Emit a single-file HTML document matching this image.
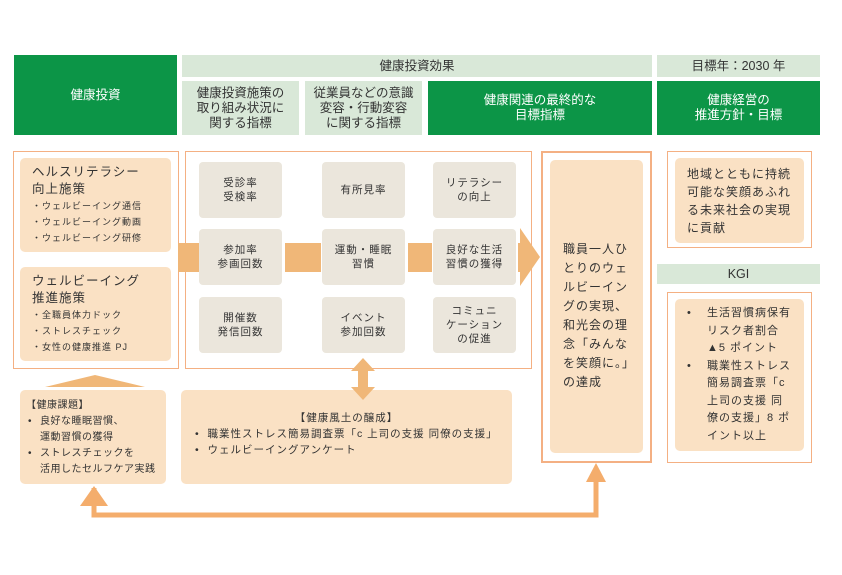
<!DOCTYPE html>
<html><head><meta charset="utf-8"><style>
body{margin:0;width:842px;height:575px;background:#fff;font-family:"Liberation Sans","Noto Sans CJK JP",sans-serif;color:#333;position:relative;overflow:hidden}
div{position:absolute;box-sizing:border-box}
.g{background:#0c9547;color:#fff;display:flex;align-items:center;justify-content:center;text-align:center;font-size:12.5px;line-height:15px}
.lg{background:#d9e8d8;color:#333;display:flex;align-items:center;justify-content:center;text-align:center;font-size:12.5px;line-height:15px}
.ob{border:1.5px solid #f4b083}
.pe{background:#fae1c4;border-radius:5px}
.gr{background:#ebe6dc;border-radius:4px;display:flex;align-items:center;justify-content:center;text-align:center;font-size:10.5px;line-height:14px;letter-spacing:1px}
.bar{background:#f0b778}
.t{font-size:9px;line-height:16px;letter-spacing:1px}
</style></head><body>
<div class="g" style="left:14px;top:55px;width:163px;height:80px">健康投資</div>
<div class="lg" style="left:182px;top:55px;width:470px;height:22px">健康投資効果</div>
<div class="lg" style="left:182px;top:81px;width:117px;height:54px">健康投資施策の<br>取り組み状況に<br>関する指標</div>
<div class="lg" style="left:305px;top:81px;width:117px;height:54px">従業員などの意識<br>変容・行動変容<br>に関する指標</div>
<div class="g" style="left:428px;top:81px;width:224px;height:54px">健康関連の最終的な<br>目標指標</div>
<div class="lg" style="left:657px;top:55px;width:163px;height:22px">目標年：2030 年</div>
<div class="g" style="left:657px;top:81px;width:163px;height:54px">健康経営の<br>推進方針・目標</div>

<div class="ob" style="left:13px;top:151px;width:166px;height:218px"></div>
<div class="pe" style="left:20px;top:158px;width:151px;height:94px;padding:6px 0 0 12px">
<div style="position:static;font-size:12.5px;line-height:17px;letter-spacing:1px">ヘルスリテラシー<br>向上施策</div>
<div class="t" style="position:static">・ウェルビーイング通信<br>・ウェルビーイング動画<br>・ウェルビーイング研修</div></div>
<div class="pe" style="left:20px;top:267px;width:151px;height:94px;padding:6px 0 0 12px">
<div style="position:static;font-size:12.5px;line-height:17px;letter-spacing:1px">ウェルビーイング<br>推進施策</div>
<div class="t" style="position:static">・全職員体力ドック<br>・ストレスチェック<br>・女性の健康推進 PJ</div></div>

<div class="ob" style="left:185px;top:151px;width:347px;height:218px"></div>
<div class="bar" style="left:178px;top:243px;width:21px;height:29px"></div>
<div class="bar" style="left:285px;top:243px;width:36px;height:29px"></div>
<div class="bar" style="left:408px;top:243px;width:24px;height:29px"></div>
<svg style="position:absolute;left:518px;top:228px" width="24" height="60"><polygon points="0,15 2,15 2,0 22,29 2,58 2,44 0,44" fill="#f0b778"/></svg>
<div class="gr" style="left:199px;top:162px;width:83px;height:56px">受診率<br>受検率</div>
<div class="gr" style="left:322px;top:162px;width:83px;height:56px">有所見率</div>
<div class="gr" style="left:433px;top:162px;width:83px;height:56px">リテラシー<br>の向上</div>
<div class="gr" style="left:199px;top:229px;width:83px;height:56px">参加率<br>参画回数</div>
<div class="gr" style="left:322px;top:229px;width:83px;height:56px">運動・睡眠<br>習慣</div>
<div class="gr" style="left:433px;top:229px;width:83px;height:56px">良好な生活<br>習慣の獲得</div>
<div class="gr" style="left:199px;top:297px;width:83px;height:56px">開催数<br>発信回数</div>
<div class="gr" style="left:322px;top:297px;width:83px;height:56px">イベント<br>参加回数</div>
<div class="gr" style="left:433px;top:297px;width:83px;height:56px">コミュニ<br>ケーション<br>の促進</div>

<div class="ob" style="left:541px;top:151px;width:111px;height:312px;border-width:2px"></div>
<div class="pe" style="left:550px;top:160px;width:93px;height:293px;padding:80px 0 0 13px;font-size:12px;line-height:19px;letter-spacing:1px">職員一人ひ<br>とりのウェ<br>ルビーイン<br>グの実現、<br>和光会の理<br>念「みんな<br>を笑顔に。」<br>の達成</div>

<div class="ob" style="left:667px;top:151px;width:145px;height:97px"></div>
<div class="pe" style="left:675px;top:158px;width:129px;height:85px;padding:7px 0 0 12px;font-size:12px;line-height:18px;letter-spacing:1px">地域とともに持続<br>可能な笑顔あふれ<br>る未来社会の実現<br>に貢献</div>
<div class="lg" style="left:657px;top:264px;width:163px;height:20px">KGI</div>
<div class="ob" style="left:667px;top:292px;width:145px;height:171px"></div>
<div class="pe" style="left:675px;top:299px;width:129px;height:152px;padding:6px 0 0 12px;font-size:11px;line-height:17.5px;letter-spacing:1px">
<div style="position:static;display:flex"><span style="width:20px">•</span><span>生活習慣病保有<br>リスク者割合<br>▲5 ポイント</span></div>
<div style="position:static;display:flex"><span style="width:20px">•</span><span>職業性ストレス<br>簡易調査票「c<br>上司の支援 同<br>僚の支援」8 ポ<br>イント以上</span></div></div>

<div class="pe" style="left:20px;top:390px;width:146px;height:94px;padding:8px 0 0 6px;font-size:10px;line-height:16px;letter-spacing:.5px">【健康課題】
<div style="position:static;display:flex"><span style="width:12px;padding-left:2px">•</span><span>良好な睡眠習慣、<br>運動習慣の獲得</span></div>
<div style="position:static;display:flex"><span style="width:12px;padding-left:2px">•</span><span>ストレスチェックを<br>活用したセルフケア実践</span></div></div>
<div class="pe" style="left:181px;top:390px;width:331px;height:94px;padding:20px 0 0 14px;font-size:10.5px;line-height:16px;letter-spacing:1px">
<div style="position:static;text-align:center;padding-right:14px">【健康風土の醸成】</div>
•&nbsp; 職業性ストレス簡易調査票「c 上司の支援 同僚の支援」<br>•&nbsp; ウェルビーイングアンケート</div>

<svg style="position:absolute;left:0;top:0" width="842" height="575">
<polygon points="45,387 95,375 145,387" fill="#f0b778"/>
<polygon points="363,358 375,371 368,371 368,387 375,387 363,400 351,387 358,387 358,371 351,371" fill="#f0b778"/>
<polyline points="94,488 94,515 596,515 596,478" fill="none" stroke="#f4ad6c" stroke-width="5"/>
<polygon points="80,506 94,486 108,506" fill="#f4ad6c"/>
<polygon points="586,482 596,463 606,482" fill="#f4ad6c"/>
</svg>
</body></html>
